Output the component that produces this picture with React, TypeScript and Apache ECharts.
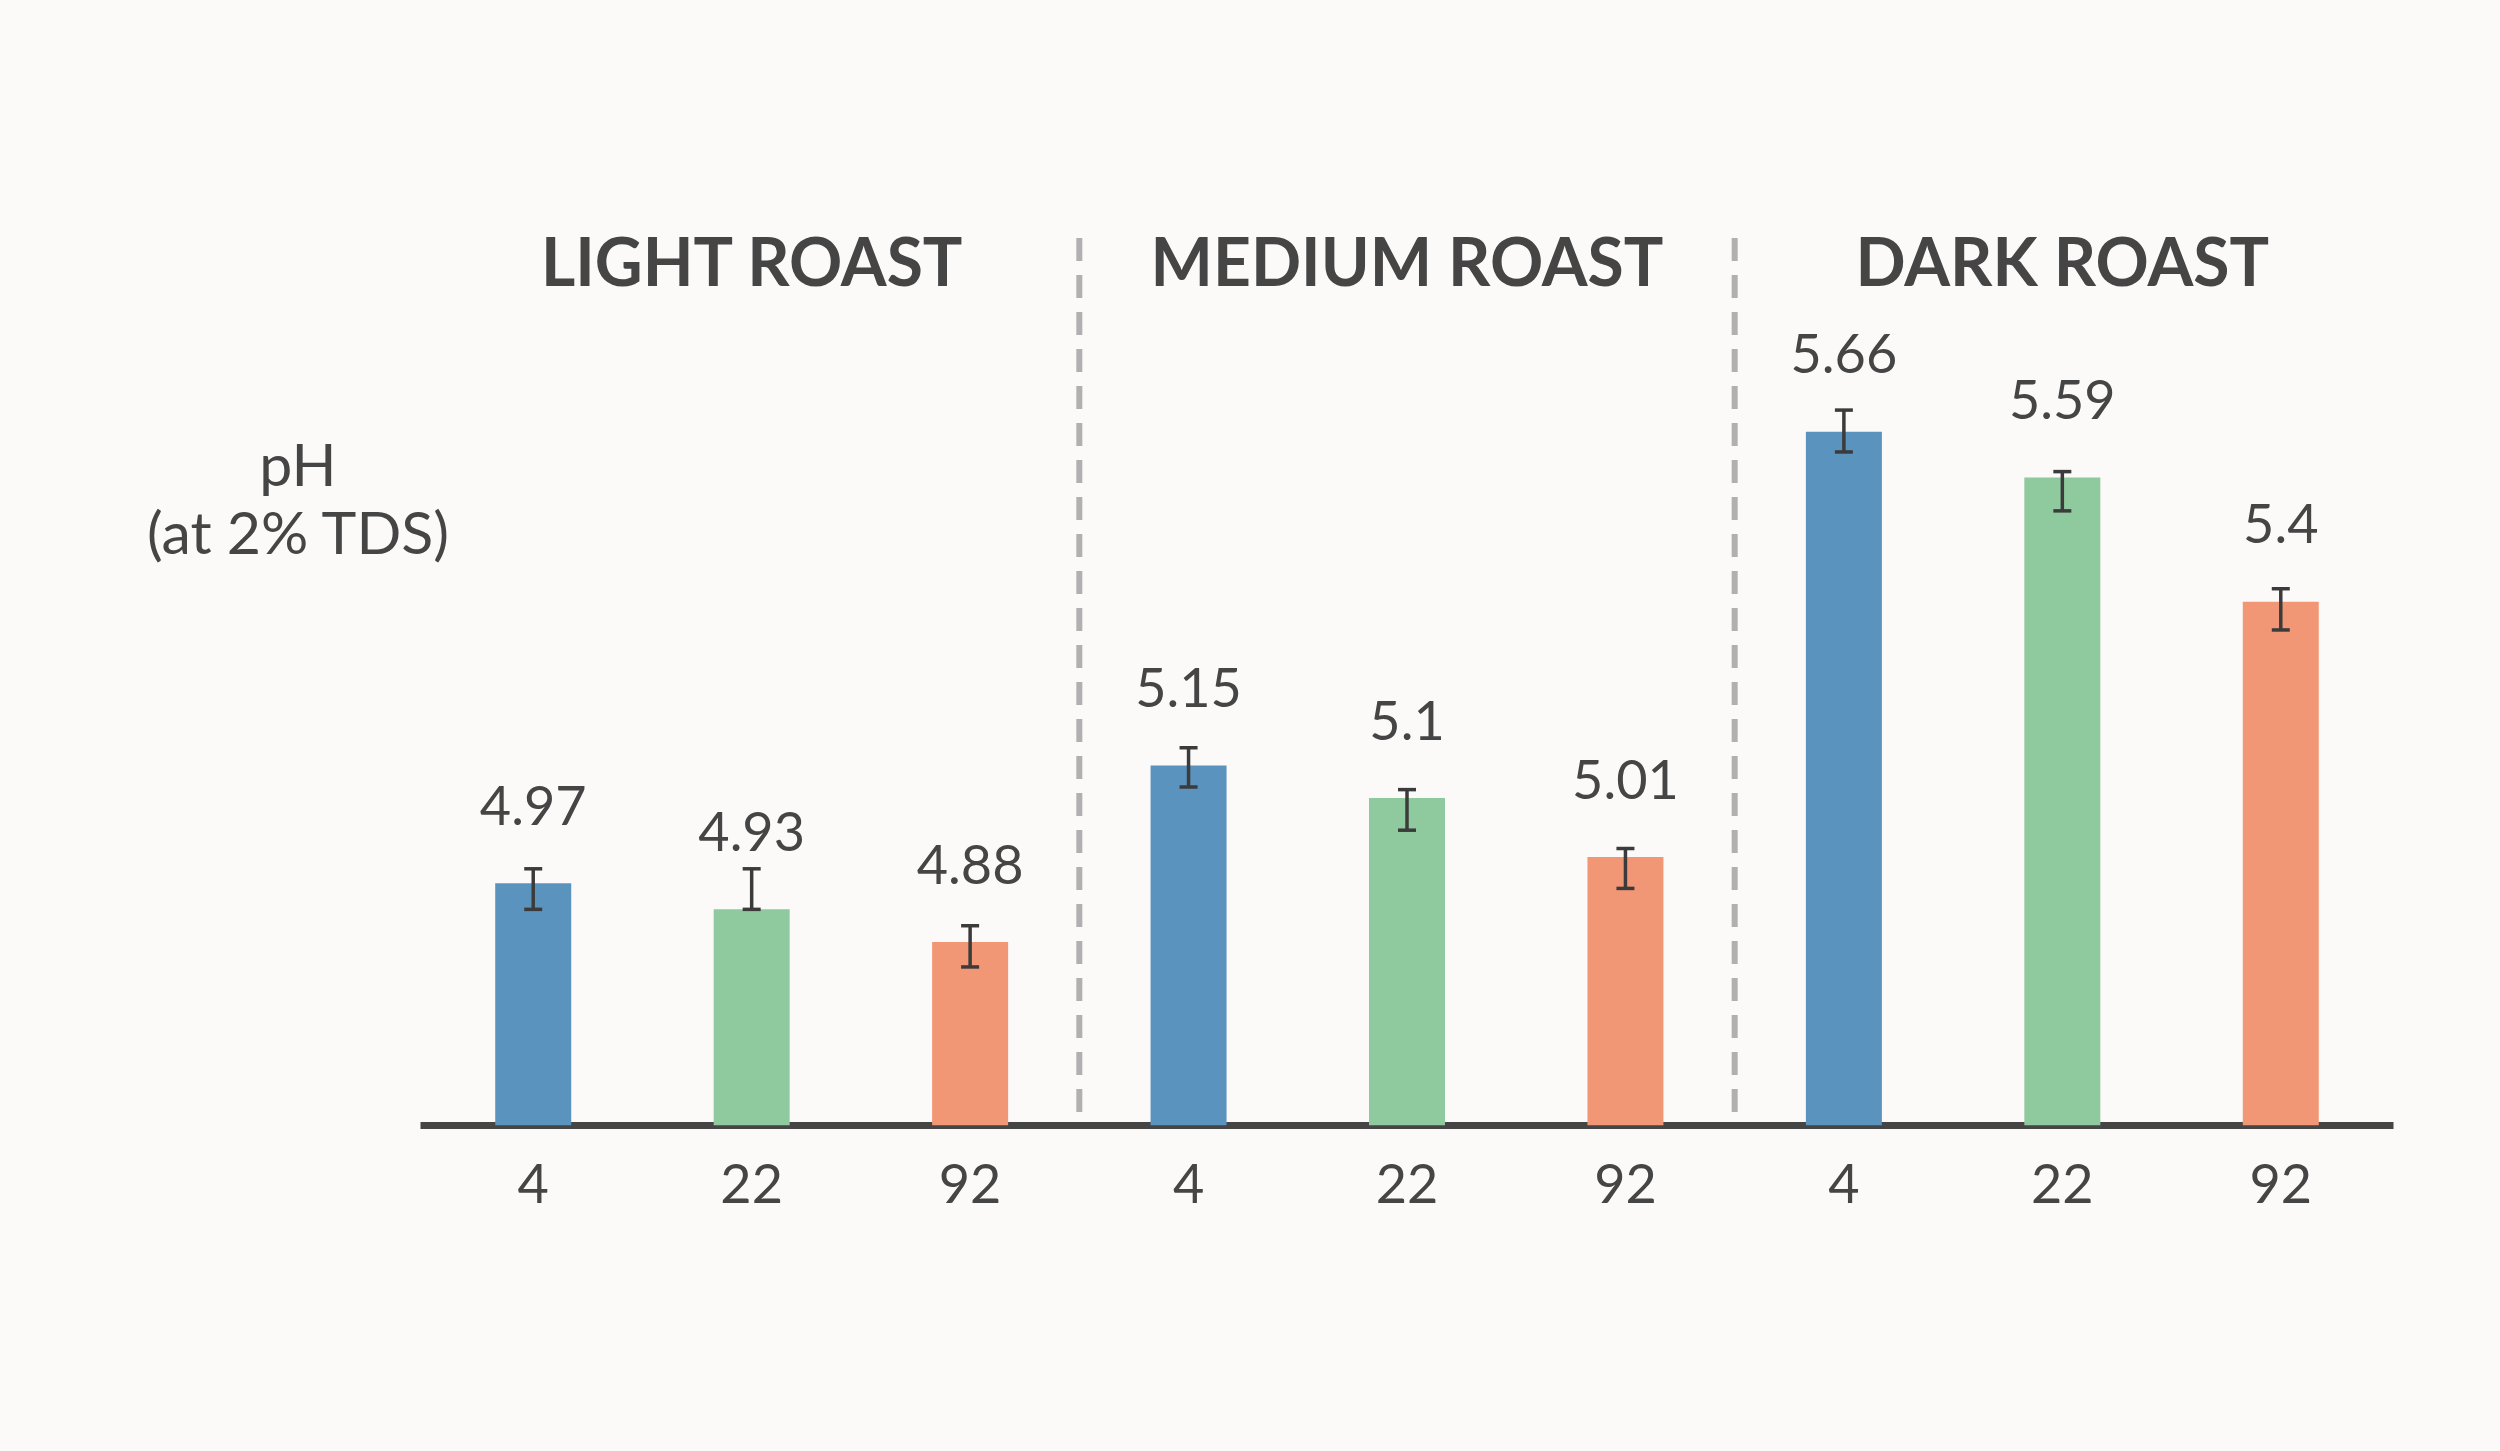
import React, { useEffect, useRef } from 'react';
import * as echarts from 'echarts';

const groups = ['LIGHT ROAST', 'MEDIUM ROAST', 'DARK ROAST'];
const tickLabels = ['4', '22', '92'];
const phValues = [4.97, 4.93, 4.88, 5.15, 5.1, 5.01, 5.66, 5.59, 5.4];
const errLow = [4.93, 4.93, 4.842, 5.117, 5.051, 4.962, 5.629, 5.539, 5.357];
const errHigh = [4.992, 4.992, 4.905, 5.177, 5.113, 5.023, 5.693, 5.599, 5.42];
const yAxisTitle = ['pH', '(at 2% TDS)'];

const barColors = ['#5b93bf', '#8fca9e', '#f29776'];
const textColor = '#454545';
const fontFamily = 'Lato, "Noto Sans", sans-serif';
const yMin = 4.6;
const yMax = 5.956;

const categories = groups.flatMap((g) => tickLabels.map((t) => `${g}|${t}`));
// category index where each new roast group begins (boundary lines)
const groupStarts = groups.slice(1).map((_, i) => (i + 1) * tickLabels.length);

export default function App() {
  const ref = useRef<HTMLDivElement>(null);

  useEffect(() => {
    if (!ref.current) return;
    const chart = echarts.init(ref.current, undefined, { renderer: 'svg' });
    const option: any = {
      animation: false,
      backgroundColor: '#fcf9f9',
      grid: { left: 424, right: 110, top: 238, bottom: 325.7 },
      xAxis: [
        {
          type: 'category',
          data: categories,
          position: 'bottom',
          boundaryGap: true,
          axisLine: { onZero: false, lineStyle: { color: textColor, width: 7, cap: 'square' } },
          axisTick: { show: false },
          splitLine: { show: false },
          axisLabel: {
            interval: 0,
            formatter: (v: string) => v.split('|')[1],
            fontFamily,
            fontSize: 54,
            color: textColor,
            margin: 57,
            verticalAlign: 'middle',
          },
        },
        {
          type: 'category',
          data: groups,
          position: 'top',
          axisLine: { show: false },
          axisTick: { show: false },
          splitLine: { show: false },
          axisLabel: {
            interval: 0,
            inside: true,
            margin: 22,
            verticalAlign: 'middle',
            fontFamily,
            fontSize: 66,
            fontWeight: 'bold',
            color: textColor,
          },
        },
      ],
      yAxis: { type: 'value', min: yMin, max: yMax, show: false },
      graphic: [
        {
          type: 'text',
          style: {
            text: yAxisTitle.join('\n'),
            x: 298,
            y: 497,
            textAlign: 'center',
            textVerticalAlign: 'middle',
            fontFamily,
            fontSize: 59,
            lineHeight: 68,
            fill: textColor,
          },
        },
      ],
      series: [
        {
          type: 'custom',
          xAxisIndex: 0,
          z: 1,
          silent: true,
          data: groupStarts.map((i) => [i, yMin]),
          encode: { x: 0, y: 1 },
          renderItem: (params: any, api: any) => {
            const idx = api.value(0);
            const c = api.coord([idx, yMin]);
            const band = api.size([1, 0])[0];
            const x = c[0] - band / 2;
            const cs = params.coordSys;
            return {
              type: 'line',
              shape: { x1: x, y1: cs.y, x2: x, y2: cs.y + cs.height },
              style: { stroke: '#b0b0b0', lineWidth: 6, lineDash: [23, 14] },
            };
          },
        },
        {
          type: 'bar',
          xAxisIndex: 0,
          barWidth: 76,
          data: phValues.map((v, i) => ({ value: v, itemStyle: { color: barColors[i % 3] } })),
          label: {
            show: true,
            position: 'top',
            distance: 52,
            fontFamily,
            fontSize: 54,
            color: textColor,
            formatter: (p: any) => String(p.value),
          },
          z: 2,
        },
        {
          type: 'custom',
          xAxisIndex: 0,
          z: 5,
          data: phValues.map((_, i) => [i, errLow[i], errHigh[i]]),
          encode: { x: 0, y: [1, 2] },
          renderItem: (_params: any, api: any) => {
            const x = api.value(0);
            const lo = api.coord([x, api.value(1)]);
            const hi = api.coord([x, api.value(2)]);
            const hw = 9;
            const style = { stroke: '#3b3b3b', lineWidth: 3.5 };
            return {
              type: 'group',
              children: [
                { type: 'line', shape: { x1: lo[0], y1: lo[1], x2: hi[0], y2: hi[1] }, style },
                { type: 'line', shape: { x1: lo[0] - hw, y1: lo[1], x2: lo[0] + hw, y2: lo[1] }, style },
                { type: 'line', shape: { x1: hi[0] - hw, y1: hi[1], x2: hi[0] + hw, y2: hi[1] }, style },
              ],
            };
          },
        },
      ],
    };
    chart.setOption(option);
    return () => chart.dispose();
  }, []);

  return (
    <div
      ref={ref}
      style={{ position: 'fixed', left: 0, top: 0, width: 2500, height: 1451 }}
    />
  );
}
